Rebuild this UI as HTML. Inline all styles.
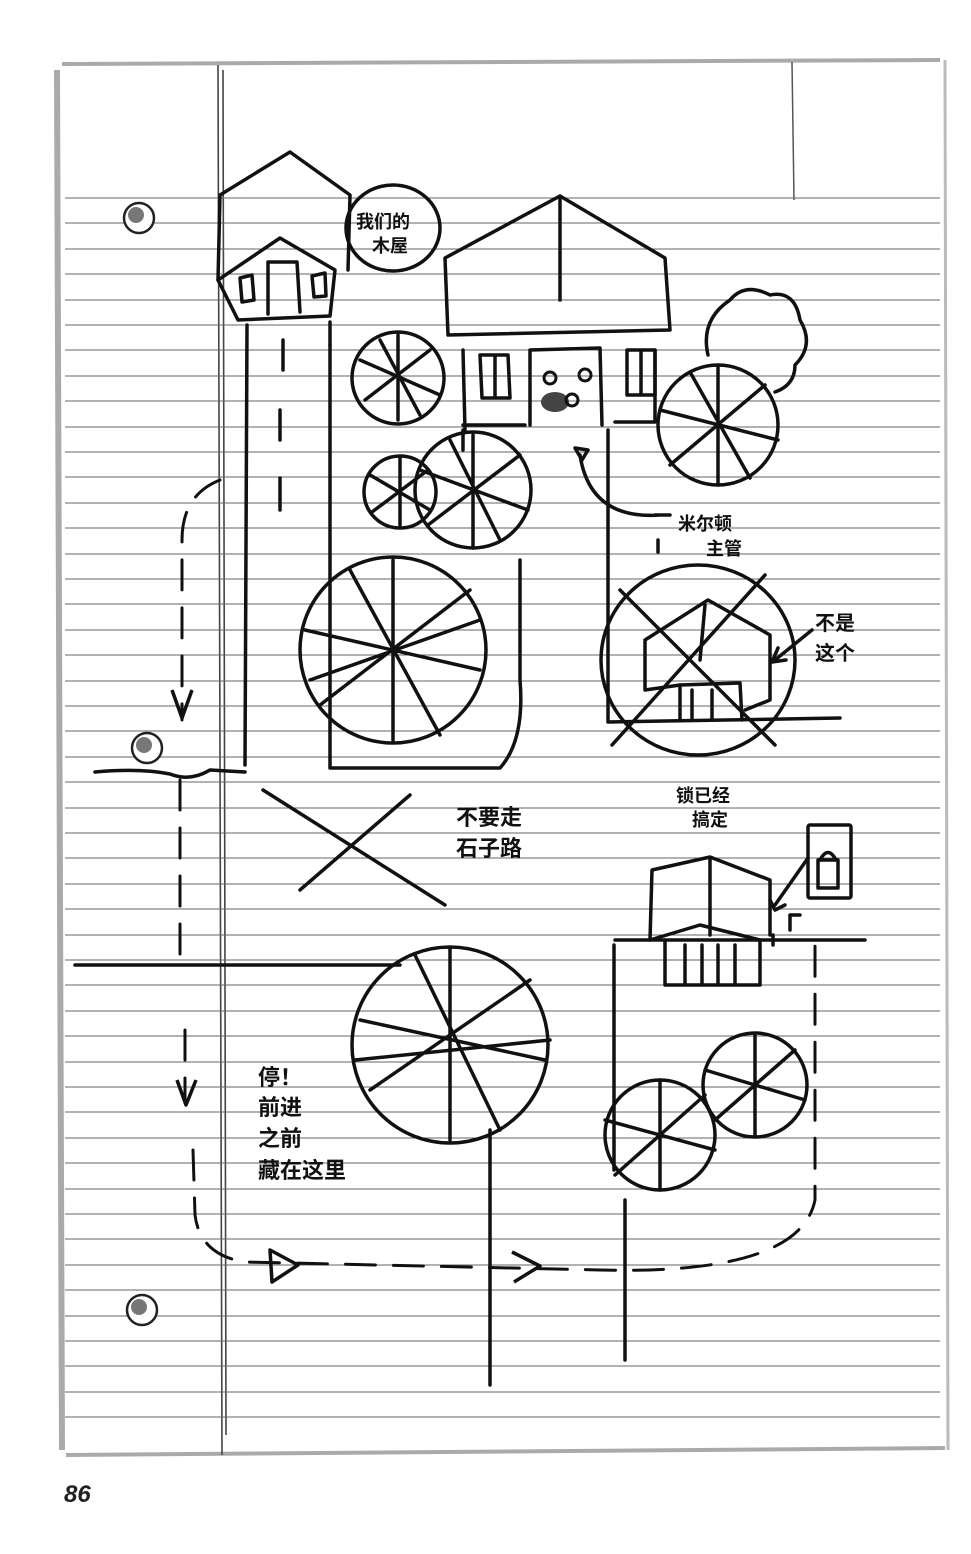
<!DOCTYPE html>
<html><head><meta charset="utf-8"><style>
html,body{margin:0;padding:0;background:#fff;}
svg{display:block;}
.t{font-family:"Liberation Sans","Noto Sans CJK SC",sans-serif;font-weight:bold;fill:#111;}
</style></head><body>
<svg width="971" height="1554" viewBox="0 0 971 1554" xmlns="http://www.w3.org/2000/svg">
<rect width="971" height="1554" fill="#fff"/>
<!-- paper -->
<g stroke="#777" fill="none">
<path d="M62 64 L940 60" stroke-width="4" stroke="#aaa"/>
<path d="M57 70 L62 1450" stroke-width="6" stroke="#aaa"/>
<path d="M66 1455 L945 1448" stroke-width="4" stroke="#aaa"/>
<path d="M945 60 L948 1450" stroke-width="3" stroke="#bbb"/>
<path d="M218 65 L222 1455 M223 70 L226 1435" stroke-width="1.6" stroke="#444"/>
<path d="M792 62 L794 200" stroke-width="1.5" stroke="#555"/>
</g>
<g stroke="#555" stroke-width="1.2" id="rules">
<script>/* none */</script>
</g>
<g stroke="#666" stroke-width="1.1">
<path d="M65 198H940M65 223H940M65 249H940M65 274H940M65 300H940M65 325H940M65 350H940M65 376H940M65 401H940M65 427H940M65 452H940M65 477H940M65 503H940M65 528H940M65 554H940M65 579H940M65 604H940M65 630H940M65 655H940M65 681H940M65 706H940M65 731H940M65 757H940M65 782H940M65 808H940M65 833H940M65 858H940M65 884H940M65 909H940M65 935H940M65 960H940M65 985H940M65 1011H940M65 1036H940M65 1062H940M65 1087H940M65 1112H940M65 1138H940M65 1163H940M65 1189H940M65 1214H940M65 1239H940M65 1265H940M65 1290H940M65 1316H940M65 1341H940M65 1366H940M65 1392H940M65 1417H940"/>
</g>
<!-- holes -->
<g fill="#fff" stroke="#222" stroke-width="2.5">
<circle cx="139" cy="218" r="15"/><circle cx="147" cy="748" r="15"/><circle cx="142" cy="1310" r="15"/>
</g>
<g fill="#777"><circle cx="136" cy="215" r="8"/><circle cx="144" cy="745" r="8"/><circle cx="139" cy="1307" r="8"/></g>

<g fill="none" stroke="#111" stroke-width="3.5" stroke-linecap="round" stroke-linejoin="round">
<!-- cabin -->
<path d="M218 280 L220 195 L290 152 L350 195 L348 270"/>
<path d="M218 280 L280 238 L335 270 L330 316 L238 320 Z"/>
<path d="M268 262 L297 262 L300 312 M268 262 L268 314"/>
<path d="M240 278 L252 275 L254 300 L242 302 Z M312 276 L325 273 L326 296 L314 297 Z"/>
<path d="M247 325 L245 765 M330 322 L330 345 M283 340 L283 370 M280 410 L280 440 M280 478 L280 510"/>
<!-- bubble -->
<ellipse cx="393" cy="228" rx="47" ry="43"/>
<!-- big house -->
<path d="M445 258 L560 196 L665 258 L670 330 L448 335 Z M560 196 L560 300"/>
<path d="M463 350 L465 430 M655 350 L655 422 M463 425 L525 425 M615 422 L655 422"/>
<path d="M530 425 L530 350 L600 348 L602 425"/>
<path d="M480 355 L508 355 L510 398 L482 398 Z M495 355 L495 398 M627 350 L655 350 L655 395 L627 395 Z M641 350 L641 395"/>
<!-- path lines from house -->
<path d="M463 430 L463 450 M608 430 L608 722 L840 718"/>
<path d="M330 345 L330 768 L500 768 Q525 740 520 680 L520 560"/>
<!-- trees left -->
<circle cx="398" cy="378" r="46"/><path d="M360 360 L440 395 M398 335 L398 420 M365 400 L430 350 M380 340 L420 415"/>
<circle cx="400" cy="492" r="36"/><path d="M370 475 L430 510 M400 458 L400 525 M372 512 L428 470"/>
<circle cx="473" cy="490" r="58"/><path d="M420 470 L528 510 M473 435 L473 548 M428 525 L520 455 M450 440 L500 540"/>
<circle cx="393" cy="650" r="93"/><path d="M305 630 L480 670 M393 560 L393 740 M320 705 L470 590 M350 570 L440 735 M310 680 L480 620"/>
<!-- right tree and cloud -->
<path d="M708 355 Q700 320 730 300 Q745 282 770 295 Q795 290 800 320 Q815 345 795 365 Q795 385 775 392"/>
<circle cx="718" cy="425" r="60"/><path d="M660 410 L778 440 M718 365 L718 485 M670 465 L765 385 M690 372 L750 478"/>
<!-- crossed house -->
<ellipse cx="698" cy="660" rx="97" ry="95"/>
<path d="M645 640 L708 600 L770 635 L770 700 L745 710 M645 640 L645 690 L680 685 M705 605 L700 660"/>
<path d="M680 720 L680 685 L740 683 L742 720 M692 690 L692 718 M712 690 L712 718"/>
<path d="M620 590 L775 745 M765 575 L612 745"/>
<!-- X middle -->
<path d="M263 790 L445 905 M300 890 L410 795"/>
<!-- horizontals -->
<path d="M95 772 Q140 768 170 774 Q190 782 210 770 L245 772 M75 965 L400 965"/>
<!-- lower house -->
<path d="M650 940 L652 870 L710 857 L770 880 L770 935 M710 857 L710 935"/>
<path d="M650 940 L700 925 L760 940 M665 940 L665 985 L760 985 L760 940 M685 945 L685 983 M702 945 L702 983 M718 945 L718 983 M735 945 L735 983"/>
<path d="M614 945 L614 1170 M615 940 L865 940 M773 935 L773 945"/>
<rect x="808" y="825" width="43" height="73" rx="2"/>
<path d="M820 860 Q828 845 836 860 M818 860 L838 860 L838 888 L818 888 Z"/>
<path d="M808 858 L775 905 M770 900 L775 910 L785 905 M800 915 L790 915 L790 930"/>
<!-- big tree -->
<circle cx="450" cy="1045" r="98" />
<path d="M360 1020 L545 1060 M450 948 L450 1140 M370 1090 L530 980 M415 955 L500 1130 M355 1060 L550 1040"/>
<path d="M490 1130 L490 1385"/>
<!-- lower right trees -->
<circle cx="755" cy="1085" r="52"/><path d="M705 1070 L805 1100 M755 1035 L755 1135 M715 1120 L795 1050"/>
<circle cx="660" cy="1135" r="55"/><path d="M605 1120 L715 1150 M660 1080 L660 1190 M615 1175 L705 1095"/>
<path d="M625 1200 L625 1360"/>
<!-- milton arrow -->
<path d="M580 455 Q590 520 660 515 M575 448 L582 460 L588 450 Z M670 515 L655 515 M658 540 L658 552"/>
<!-- not this arrow -->
<path d="M812 630 L775 660 M778 648 L772 662 L786 660"/>
</g>
<!-- dashed route -->
<g fill="none" stroke="#111" stroke-width="3" stroke-dasharray="30 18" stroke-linecap="round">
<path d="M220 480 Q182 495 182 540 L182 720"/>
<path d="M180 780 L180 960"/>
<path d="M185 1030 L185 1100"/>
<path d="M193 1150 L195 1215 Q200 1255 245 1262 L600 1270 Q800 1275 815 1200 L815 945"/>
</g>
<g fill="none" stroke="#111" stroke-width="3.5" stroke-linejoin="round">
<path d="M172 690 L182 718 L192 690"/>
<path d="M177 1080 L186 1105 L196 1080"/>
<path d="M270 1250 L298 1265 L272 1282 Z"/>
<path d="M512 1252 L540 1266 L514 1282"/>
</g>
<!-- smudge -->
<ellipse cx="555" cy="402" rx="14" ry="10" fill="#444"/>
<circle cx="550" cy="378" r="6" fill="none" stroke="#111" stroke-width="3"/>
<circle cx="585" cy="375" r="6" fill="none" stroke="#111" stroke-width="3"/>
<circle cx="572" cy="400" r="6" fill="none" stroke="#111" stroke-width="3"/>
<!-- labels -->
<text class="t" x="356" y="228" font-size="18">我们的</text>
<text class="t" x="372" y="252" font-size="18">木屋</text>
<text class="t" x="678" y="530" font-size="18">米尔顿</text>
<text class="t" x="706" y="555" font-size="18">主管</text>
<text class="t" x="815" y="630" font-size="20">不是</text>
<text class="t" x="815" y="660" font-size="20">这个</text>
<text class="t" x="456" y="825" font-size="22">不要走</text>
<text class="t" x="456" y="856" font-size="22">石子路</text>
<text class="t" x="676" y="802" font-size="18">锁已经</text>
<text class="t" x="692" y="826" font-size="18">搞定</text>
<text class="t" x="258" y="1085" font-size="22">停！</text>
<text class="t" x="258" y="1115" font-size="22">前进</text>
<text class="t" x="258" y="1146" font-size="22">之前</text>
<text class="t" x="258" y="1178" font-size="22">藏在这里</text>
<text x="64" y="1502" font-family="Liberation Sans,sans-serif" font-style="italic" font-weight="bold" font-size="24" fill="#222">86</text>
</svg>
</body></html>
